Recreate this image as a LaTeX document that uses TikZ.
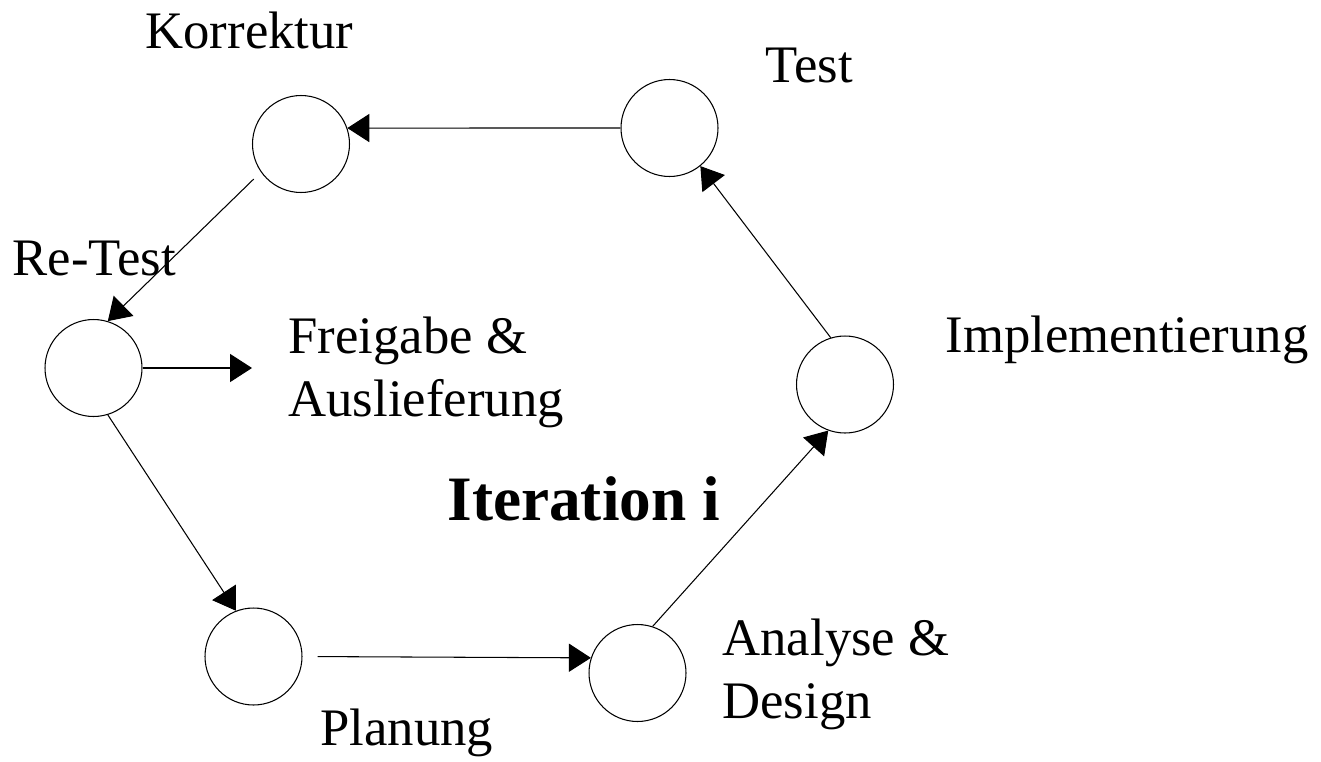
\documentclass[tikz,border=0pt]{standalone}
\usepackage{fontspec}
\setmainfont{Liberation Serif}
\usetikzlibrary{arrows.meta}
\tikzset{>={Triangle[length=12.5pt,width=16pt]}}

\begin{document}
\begin{tikzpicture}[x=0.02cm, y=-0.02cm, line width=0.6pt,
  circ/.style={draw, circle, minimum size=1.94cm, inner sep=0pt},
  lab/.style={anchor=base west, inner sep=0pt, align=left, font=\fontsize{30}{35.7}\selectfont}]
\useasboundingbox (0,0) rectangle (1321,761);
\node[circ] (korr) at (301,144) {};
\node[circ] (test) at (669.5,128) {};
\node[circ] (retest) at (93.5,368) {};
\node[circ] (impl) at (845,384.5) {};
\node[circ] (plan) at (253.5,656.5) {};
\node[circ] (anal) at (637.5,673) {};
\node[lab] (korrl) at (145,48) {Korrektur};
\node[lab] (testl) at (765,82) {Test};
\node[lab] (retestl) at (12,275) {Re-Test};
\node[lab] (frei) at (288,416) {Freigabe \&\\Auslieferung};
\node[lab] (impll) at (945,352) {Implementierung};
\node[lab] (anall) at (722,718) {Analyse \&\\Design};
\node[lab] (planl) at (320,745) {Planung};
\node[lab, font=\fontsize{36}{40}\selectfont\bfseries] (iter) at (447,520) {Iteration i};
\draw[->] (test.west) -- (korr.19);
\draw[->, shorten <=0.2cm] (korr.215) -- (retest.73);
\draw[->, shorten >=0.72cm] (retest.east) -- (retest.east -| frei.west);
\draw[->] (retest.287) -- (plan.111);
\draw[->, shorten <=0.3cm] (plan.east) -- (anal.162);
\draw[->] (anal.72.5) -- (impl.250.7);
\draw[->] (impl.107.5) -- (test.309.5);
\end{tikzpicture}
\end{document}
